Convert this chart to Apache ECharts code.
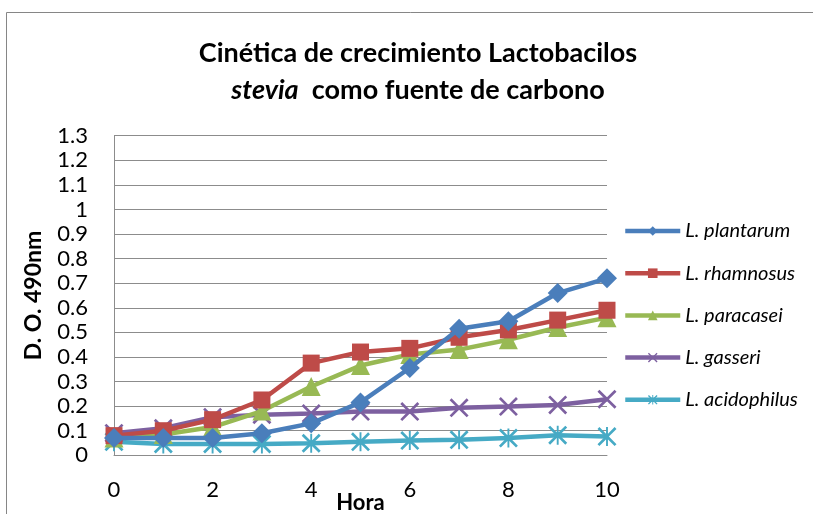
<!DOCTYPE html>
<html>
<head>
<meta charset="utf-8">
<script src="https://cdn.jsdelivr.net/npm/echarts@6/dist/echarts.min.js"></script>
<style>
  html, body { margin: 0; padding: 0; background: #fff; }
  #chart { width: 813px; height: 514px; }
</style>
</head>
<body>
<div id="chart"></div>
<script>
// Growth kinetics of Lactobacillus strains with stevia as carbon source
const hours = [0, 1, 2, 3, 4, 5, 6, 7, 8, 9, 10];
const seriesNames = ['L. plantarum', 'L. rhamnosus', 'L. paracasei', 'L. gasseri', 'L. acidophilus'];
const plantarum   = [0.07, 0.07, 0.07, 0.09, 0.13, 0.215, 0.355, 0.515, 0.545, 0.66, 0.72];
const rhamnosus   = [0.08, 0.10, 0.145, 0.225, 0.375, 0.42, 0.435, 0.48, 0.51, 0.55, 0.59];
const paracasei   = [0.07, 0.085, 0.115, 0.18, 0.28, 0.365, 0.41, 0.43, 0.47, 0.52, 0.56];
const gasseri     = [0.09, 0.11, 0.155, 0.165, 0.17, 0.178, 0.178, 0.193, 0.198, 0.205, 0.228];
const acidophilus = [0.055, 0.046, 0.046, 0.046, 0.049, 0.055, 0.06, 0.063, 0.07, 0.082, 0.076];
const yTicksMax = 1.3;

const colors = ['#4A7EBB', '#BE4B48', '#98B954', '#7D60A0', '#46AAC5'];
const FONT = 'Lato, "Liberation Sans", sans-serif';

// outline-style marker shapes
const crossPath = 'path://M0,2 L2,0 L10,8 L18,0 L20,2 L12,10 L20,18 L18,20 L10,12 L2,20 L0,18 L8,10 Z';
const starPath = 'path://M0,2 L2,0 L10,8 L18,0 L20,2 L12,10 L20,18 L18,20 L10,12 L2,20 L0,18 L8,10 Z M9,0 L11,0 L11,20 L9,20 Z';

const values = [plantarum, rhamnosus, paracasei, gasseri, acidophilus];
const symbols = ['diamond', 'rect', 'triangle', crossPath, starPath];
const sizes = [20, 17, 19, 19, 19];

const series = values.map((vals, i) => ({
  name: seriesNames[i],
  type: 'line',
  data: hours.map((h, k) => [h, vals[k]]),
  symbol: symbols[i],
  symbolSize: sizes[i],
  showAllSymbol: true,
  lineStyle: { color: colors[i], width: 4.5 },
  itemStyle: { color: colors[i], borderWidth: 0 },
  emphasis: { disabled: true },
  animation: false,
  z: 10 - i
}));

const chart = echarts.init(document.getElementById('chart'), null, { renderer: 'canvas' });
chart.setOption({
  backgroundColor: '#ffffff',
  animation: false,
  textStyle: { fontFamily: FONT },
  title: {
    text: '{b|Cinética de crecimiento Lactobacilos}\n{i|stevia}{b|  como fuente de carbono}',
    left: 413,
    top: 30,
    textAlign: 'center',
    textStyle: {
      rich: {
        b: { fontFamily: FONT, fontWeight: 'bold', fontSize: 27, color: '#000', lineHeight: 37 },
        i: { fontFamily: FONT, fontWeight: 'bold', fontStyle: 'italic', fontSize: 27, color: '#000', lineHeight: 37 }
      }
    }
  },
  graphic: [{
    type: 'rect',
    shape: { x: 6.5, y: 12.5, width: 900, height: 600 },
    style: { fill: 'none', stroke: '#868686', lineWidth: 1 },
    silent: true
  }],
  legend: {
    orient: 'vertical',
    left: 618,
    top: 215,
    itemWidth: 55,
    itemHeight: 12,
    itemGap: 20.2,
    data: seriesNames,
    lineStyle: { width: 4.5 },
    textStyle: { fontFamily: FONT, fontStyle: 'italic', fontSize: 20, color: '#000', lineHeight: 22 }
  },
  grid: { left: 114, right: 206, top: 135.7, bottom: 58.7, containLabel: false, outerBoundsMode: 'none' },
  xAxis: {
    type: 'value',
    min: 0,
    max: 10,
    interval: 2,
    name: 'Hora',
    nameLocation: 'middle',
    nameGap: 37,
    nameMoveOverlap: false,
    nameTextStyle: { fontFamily: FONT, fontWeight: 'bold', fontSize: 22, color: '#000' },
    axisLine: { show: true, lineStyle: { color: '#8c8c8c', width: 1 } },
    axisTick: { show: false },
    splitLine: { show: false },
    axisLabel: { fontFamily: FONT, fontSize: 22, color: '#000', margin: 24 }
  },
  yAxis: {
    type: 'value',
    min: 0,
    max: yTicksMax,
    interval: 0.1,
    name: 'D. O. 490nm',
    nameLocation: 'middle',
    nameRotate: 90,
    nameGap: 69,
    nameTextStyle: { fontFamily: FONT, fontWeight: 'bold', fontSize: 23, color: '#000' },
    axisLine: { show: true, lineStyle: { color: '#8c8c8c', width: 1 } },
    axisTick: { show: false },
    splitLine: { show: true, lineStyle: { color: '#8c8c8c', width: 1 } },
    axisLabel: {
      fontFamily: FONT, fontSize: 22, color: '#000', margin: 26,
      formatter: v => String(Math.round(v * 10) / 10)
    }
  },
  series: series
});
</script>
</body>
</html>
